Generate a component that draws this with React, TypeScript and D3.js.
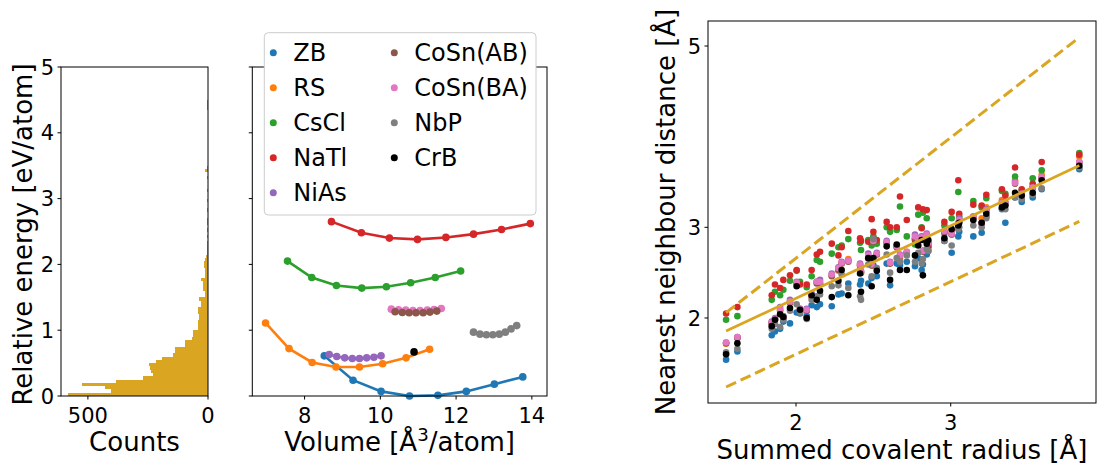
import React from 'react';
import * as d3 from 'd3';

const FONT = '"DejaVu Sans", sans-serif';

// ---------- relative-energy histogram (bins of 0.05 eV/atom starting at 0) ----------
const energyBinWidth = 0.05;
const energyCounts = [
  583, 403, 428, 525, 382, 270, 231, 236, 242, 246,
  217, 192, 146, 138, 138, 96, 96, 67, 64, 62,
  42, 42, 40, 36, 38, 42, 42, 29, 31, 37,
  11, 13, 19, 21, 21, 29, 12, 12, 14, 15,
  17, 12, 8, 6, 4, 5, 3, 2, 4, 2,
  3, 1, 4, 5, 2, 1, 3, 1, 2, 5,
  2, 1, 3, 2, 1, 2, 3, 1, 11, 3,
  0, 1, 0, 0, 1, 0, 0, 0, 0, 0,
  0, 0, 0, 0, 0, 0, 0, 3, 3, 3,
];
const countTicks = [500, 0];
const energyTicks = [0, 1, 2, 3, 4, 5];

// ---------- energy-volume curves ----------
const structureNames = ['ZB', 'RS', 'CsCl', 'NaTl', 'NiAs', 'CoSn(AB)', 'CoSn(BA)', 'NbP', 'CrB'];
const structureColors = ['#1f77b4', '#ff7f0e', '#2ca02c', '#d62728', '#9467bd', '#8c564b', '#e377c2', '#7f7f7f', '#000000'];

const zbVolume = [8.52, 9.28, 10.02, 10.77, 11.52, 12.27, 13.01, 13.76];
const zbEnergy = [0.61, 0.24, 0.07, 0.0, 0.01, 0.07, 0.18, 0.29];
const rsVolume = [6.97, 7.59, 8.2, 8.83, 9.45, 10.06, 10.68, 11.3];
const rsEnergy = [1.11, 0.72, 0.51, 0.44, 0.44, 0.49, 0.58, 0.71];
const csclVolume = [7.55, 8.19, 8.84, 9.51, 10.16, 10.8, 11.45, 12.12];
const csclEnergy = [2.05, 1.8, 1.68, 1.64, 1.66, 1.72, 1.8, 1.9];
const natlVolume = [8.71, 9.5, 10.24, 10.98, 11.73, 12.46, 13.2, 13.96];
const natlEnergy = [2.65, 2.48, 2.4, 2.38, 2.41, 2.46, 2.53, 2.62];
const niasVolume = [8.65, 8.85, 9.06, 9.26, 9.45, 9.64, 9.83, 10.02];
const niasEnergy = [0.63, 0.6, 0.58, 0.57, 0.57, 0.58, 0.59, 0.61];
const cosnABVolume = [10.39, 10.58, 10.76, 10.94, 11.13, 11.31, 11.49];
const cosnABEnergy = [1.28, 1.27, 1.265, 1.265, 1.265, 1.275, 1.29];
const cosnBAVolume = [10.29, 10.48, 10.67, 10.86, 11.05, 11.24, 11.42, 11.61];
const cosnBAEnergy = [1.32, 1.31, 1.305, 1.3, 1.3, 1.305, 1.315, 1.33];
const nbpVolume = [12.46, 12.63, 12.8, 12.97, 13.14, 13.3, 13.45, 13.6];
const nbpEnergy = [0.97, 0.94, 0.93, 0.93, 0.94, 0.97, 1.02, 1.07];
const crbVolume = [10.89];
const crbEnergy = [0.67];
const volumeTicks = [8, 10, 12, 14];

// ---------- nearest-neighbour distance vs summed covalent radius ----------
const radiusSum = [
  1.548, 1.621, 1.843, 1.864, 1.897, 1.918, 1.961, 2.004, 2.026, 2.069,
  2.101, 2.134, 2.155, 2.231, 2.274, 2.295, 2.338, 2.414, 2.42, 2.467,
  2.489, 2.522, 2.586, 2.608, 2.651, 2.672, 2.716, 2.769, 2.812, 2.82,
  2.855, 2.959, 3.006, 3.049, 3.055, 3.146, 3.2, 3.23, 3.331, 3.353,
  3.416, 3.459, 3.53, 3.588, 3.831, 2.79, 2.845, 2.5,
];
const zbDistance = [
  1.54, 1.63, 1.81, 1.85, 1.88, 1.96, 1.94, 2.06, 2.05, 2.02,
  2.14, 2.12, 2.15, 2.13, 2.26, 2.27, 2.38, 2.37, 2.41, 2.38,
  2.44, 2.46, 2.6, 2.36, 2.6, 2.58, 2.62, 2.57, 2.53, 2.59,
  2.74, 2.85, 2.72, 2.9, 2.95, 2.9, 2.94, 3.12, 3.2, 3.05,
  3.33, 3.28, 3.33, 3.42, 3.64, 2.66, 2.7, 2.58,
];
const rsDistance = [
  1.715, 1.78, 1.95, 1.98, 2.09, 2.0, 2.17, 2.38, 2.1, 2.08,
  2.23, 2.4, 2.38, 2.47, 2.52, 2.6, 2.65, 2.58, 2.5, 2.66,
  2.58, 2.7, 2.83, 2.6, 2.78, 2.65, 2.73, 2.87, 2.88, 2.74,
  2.82, 2.96, 2.95, 3.0, 3.08, 3.12, 3.1, 3.22, 3.3, 3.28,
  3.52, 3.38, 3.45, 3.58, 3.78, 2.88, 2.92, 2.84,
];
const csclDistance = [
  1.98, 2.02, 2.2, 2.29, 2.25, 2.31, 2.41, 2.52, 2.4, 2.34,
  2.46, 2.64, 2.62, 2.71, 2.78, 2.8, 2.87, 2.83, 2.75, 2.86,
  2.8, 2.82, 3.0, 2.95, 2.97, 3.23, 2.9, 2.81, 3.0, 3.16,
  2.79, 3.02, 3.1, 3.39, 3.12, 3.29, 3.22, 3.32, 3.4, 3.37,
  3.56, 3.4, 3.54, 3.63, 3.82, 3.14, 3.1, 2.9,
];
const natlDistance = [
  2.05, 2.12, 2.25, 2.37, 2.33, 2.42, 2.47, 2.53, 2.37, 2.37,
  2.53, 2.7, 2.73, 2.82, 2.69, 2.78, 2.96, 2.88, 2.85, 2.84,
  3.09, 2.86, 3.06, 3.0, 3.0, 3.34, 3.08, 2.86, 2.99, 3.2,
  2.78, 3.06, 3.17, 3.52, 3.15, 3.25, 3.24, 3.36, 3.42, 3.35,
  3.66, 3.42, 3.48, 3.72, 3.8, 3.22, 3.19, 2.95,
];
const niasDistance = [
  1.73, 1.79, 1.96, 2.0, 2.12, 2.02, 2.2, 2.4, 2.1, 2.1,
  2.27, 2.4, 2.42, 2.49, 2.56, 2.62, 2.63, 2.6, 2.52, 2.71,
  2.6, 2.72, 2.85, 2.62, 2.8, 2.7, 2.72, 2.92, 2.9, 2.74,
  2.84, 2.93, 2.92, 3.05, 3.1, 3.12, 3.05, 3.2, 3.28, 3.27,
  3.5, 3.37, 3.44, 3.55, 3.72, 2.88, 2.93, 2.86,
];
const cosnABDistance = [
  1.72, 1.78, 1.94, 1.98, 2.08, 2.0, 2.17, 2.38, 2.09, 2.08,
  2.24, 2.38, 2.38, 2.46, 2.53, 2.6, 2.62, 2.58, 2.5, 2.67,
  2.58, 2.7, 2.83, 2.6, 2.78, 2.68, 2.72, 2.88, 2.88, 2.73,
  2.82, 2.95, 2.92, 3.02, 3.07, 3.1, 3.04, 3.18, 3.26, 3.25,
  3.48, 3.36, 3.43, 3.54, 3.71, 2.86, 2.91, 2.84,
];
const cosnBADistance = [
  1.73, 1.79, 1.95, 1.99, 2.1, 2.01, 2.18, 2.39, 2.1, 2.09,
  2.25, 2.4, 2.4, 2.48, 2.55, 2.61, 2.63, 2.59, 2.51, 2.69,
  2.59, 2.71, 2.84, 2.61, 2.79, 2.69, 2.73, 2.9, 2.89, 2.74,
  2.83, 2.96, 2.93, 3.03, 3.08, 3.11, 3.05, 3.19, 3.27, 3.26,
  3.49, 3.37, 3.44, 3.55, 3.72, 2.87, 2.92, 2.85,
];
const nbpDistance = [
  1.62, 1.66, 1.88, 1.93, 1.9, 1.98, 2.08, 2.15, 2.06, 1.99,
  2.2, 2.24, 2.26, 2.35, 2.36, 2.48, 2.33, 2.24, 2.2, 2.59,
  2.46, 2.55, 2.7, 2.5, 2.66, 2.62, 2.69, 2.62, 2.6, 2.65,
  2.74, 2.85, 2.8, 2.98, 3.0, 3.02, 3.0, 3.1, 3.21, 3.2,
  3.33, 3.31, 3.36, 3.43, 3.66, 2.72, 2.76, 2.87,
];
const crbDistance = [
  1.6, 1.72, 1.91, 1.98, 2.04, 2.01, 2.11, 2.35, 2.09, 2.0,
  2.25, 2.2, 2.3, 2.23, 2.41, 2.53, 2.25, 2.49, 2.29, 2.66,
  2.35, 2.52, 2.79, 2.42, 2.81, 2.53, 2.53, 2.69, 2.86, 2.47,
  2.86, 2.88, 2.98, 3.02, 3.05, 3.08, 3.05, 3.15, 3.22, 3.24,
  3.38, 3.35, 3.38, 3.52, 3.68, 2.8, 2.82, 2.66,
];
// linear fit of distance on radius, and the proportional envelope lines
const fitSlope = 0.8;
const fitIntercept = 0.617;
const upperFactor = 1.33;
const lowerFactor = 0.8;
const radiusTicks = [2, 3];
const distanceTicks = [2, 3, 5];

const GOLD = '#daa520';
const TICK = 21;
const LABEL = 26;
const LEGEND = 24;

type Box = { left: number; right: number; top: number; bottom: number };

function Frame({ b }: { b: Box }) {
  return (
    <rect x={b.left} y={b.top} width={b.right - b.left} height={b.bottom - b.top}
      fill="none" stroke="#000" strokeWidth={1} />
  );
}

export default function App() {
  const histBox: Box = { left: 61, right: 208, top: 67, bottom: 396 };
  const evBox: Box = { left: 252.3, right: 547, top: 67, bottom: 396 };
  const nnBox: Box = { left: 708, right: 1096, top: 21, bottom: 403 };

  const energyY = d3.scaleLinear().domain([0, 5]).range([histBox.bottom, histBox.top]);
  const countX = d3.scaleLinear().domain([612, 0]).range([histBox.left, histBox.right]);
  const volX = d3.scaleLinear().domain([6.62, 14.4]).range([evBox.left, evBox.right]);
  const radX = d3.scaleLinear().domain([1.431, 3.939]).range([nnBox.left, nnBox.right]);
  const distY = d3.scaleLinear().domain([1.062, 5.276]).range([nnBox.bottom, nnBox.top]);

  const evSeries = [
    { v: zbVolume, e: zbEnergy, i: 0 },
    { v: rsVolume, e: rsEnergy, i: 1 },
    { v: csclVolume, e: csclEnergy, i: 2 },
    { v: natlVolume, e: natlEnergy, i: 3 },
    { v: niasVolume, e: niasEnergy, i: 4 },
    { v: cosnBAVolume, e: cosnBAEnergy, i: 6 },
    { v: cosnABVolume, e: cosnABEnergy, i: 5 },
    { v: nbpVolume, e: nbpEnergy, i: 7 },
    { v: crbVolume, e: crbEnergy, i: 8 },
  ];
  const nnSeries = [
    zbDistance, rsDistance, csclDistance, natlDistance, niasDistance,
    cosnABDistance, cosnBADistance, nbpDistance, crbDistance,
  ];

  const evLine = d3.line<[number, number]>().x((d) => volX(d[0])).y((d) => energyY(d[1]));
  const rMin = d3.min(radiusSum) as number;
  const rMax = d3.max(radiusSum) as number;
  const nnLine = d3.line<[number, number]>().x((d) => radX(d[0])).y((d) => distY(d[1]));

  const tickLen = 3.5;

  return (
    <svg width={1098} height={466} style={{ position: 'absolute', left: 0, top: 0, background: '#fff' }}
      fontFamily={FONT}>
      <rect x={0} y={0} width={1098} height={466} fill="#fff" />

      {/* ---- histogram of relative energies ---- */}
      <g>
        {energyCounts.map((c, k) =>
          c > 0 ? (
            <rect key={k}
              x={countX(c)} width={countX(0) - countX(c)}
              y={energyY((k + 1) * energyBinWidth)}
              height={energyY(k * energyBinWidth) - energyY((k + 1) * energyBinWidth)}
              fill={GOLD} shapeRendering="crispEdges" />
          ) : null,
        )}
        <Frame b={histBox} />
        {energyTicks.map((t) => (
          <g key={t}>
            <line x1={histBox.left - tickLen} x2={histBox.left} y1={energyY(t)} y2={energyY(t)} stroke="#000" />
            <text x={histBox.left - 7} y={energyY(t)} dy="0.36em" textAnchor="end" fontSize={TICK}>{t}</text>
          </g>
        ))}
        {countTicks.map((t) => (
          <g key={t}>
            <line x1={countX(t)} x2={countX(t)} y1={histBox.bottom} y2={histBox.bottom + tickLen} stroke="#000" />
            <text x={countX(t)} y={histBox.bottom + 27} textAnchor="middle" fontSize={TICK}>{t}</text>
          </g>
        ))}
        <text x={(histBox.left + histBox.right) / 2} y={histBox.bottom + 55} textAnchor="middle" fontSize={LABEL}>Counts</text>
        <text transform={`translate(32,${(histBox.top + histBox.bottom) / 2 + 3}) rotate(-90)`} textAnchor="middle" fontSize={LABEL}>
          Relative energy [eV/atom]
        </text>
      </g>

      {/* ---- energy-volume curves ---- */}
      <g>
        {evSeries.map((s) => {
          const pts = s.v.map((v, k) => [v, s.e[k]] as [number, number]);
          const col = structureColors[s.i];
          return (
            <g key={s.i}>
              {pts.length > 1 && (
                <path d={evLine(pts) as string} fill="none" stroke={col} strokeWidth={2.6} />
              )}
              {pts.map((p, k) => (
                <circle key={k} cx={volX(p[0])} cy={energyY(p[1])} r={3.8} fill={col} />
              ))}
            </g>
          );
        })}
        <Frame b={evBox} />
        {energyTicks.map((t) => (
          <line key={t} x1={evBox.left - tickLen} x2={evBox.left} y1={energyY(t)} y2={energyY(t)} stroke="#000" />
        ))}
        {volumeTicks.map((t) => (
          <g key={t}>
            <line x1={volX(t)} x2={volX(t)} y1={evBox.bottom} y2={evBox.bottom + tickLen} stroke="#000" />
            <text x={volX(t)} y={evBox.bottom + 27} textAnchor="middle" fontSize={TICK}>{t}</text>
          </g>
        ))}
        <text x={(evBox.left + evBox.right) / 2} y={evBox.bottom + 55} textAnchor="middle" fontSize={LABEL}>
          Volume [Å<tspan fontSize={LABEL * 0.7} dy={-10}>3</tspan><tspan dy={10}>/atom]</tspan>
        </text>

        {/* legend */}
        <rect x={264.3} y={32.7} width={271.7} height={182.3} rx={4} fill="#fff" stroke="#cccccc" strokeWidth={1} />
        {structureNames.map((name, k) => {
          const col = k < 5 ? 0 : 1;
          const row = k < 5 ? k : k - 5;
          const mx = col === 0 ? 273.3 : 394.3;
          const my = 52.7 + row * 35;
          return (
            <g key={name}>
              <circle cx={mx} cy={my} r={3.5} fill={structureColors[k]} />
              <text x={mx + 20} y={my} dy="0.36em" fontSize={LEGEND}>{name}</text>
            </g>
          );
        })}
      </g>

      {/* ---- nearest-neighbour distance vs summed covalent radius ---- */}
      <g>
        {nnSeries.map((ds, si) => (
          <g key={si}>
            {radiusSum.map((r, k) =>
              ds[k] !== undefined ? (
                <circle key={k} cx={radX(r)} cy={distY(ds[k])} r={3.3} fill={structureColors[si]} />
              ) : null,
            )}
          </g>
        ))}
        <path d={nnLine([[rMin, rMin * upperFactor], [rMax, rMax * upperFactor]]) as string}
          fill="none" stroke={GOLD} strokeWidth={3} strokeDasharray="11,5" />
        <path d={nnLine([[rMin, rMin * lowerFactor], [rMax, rMax * lowerFactor]]) as string}
          fill="none" stroke={GOLD} strokeWidth={3} strokeDasharray="11,5" />
        <path d={nnLine([[rMin, fitIntercept + fitSlope * rMin], [rMax, fitIntercept + fitSlope * rMax]]) as string}
          fill="none" stroke={GOLD} strokeWidth={2.8} />
        <Frame b={nnBox} />
        {distanceTicks.map((t) => (
          <g key={t}>
            <line x1={nnBox.left - tickLen} x2={nnBox.left} y1={distY(t)} y2={distY(t)} stroke="#000" />
            <text x={nnBox.left - 7} y={distY(t)} dy="0.36em" textAnchor="end" fontSize={TICK}>{t}</text>
          </g>
        ))}
        {radiusTicks.map((t) => (
          <g key={t}>
            <line x1={radX(t)} x2={radX(t)} y1={nnBox.bottom} y2={nnBox.bottom + tickLen} stroke="#000" />
            <text x={radX(t)} y={nnBox.bottom + 27} textAnchor="middle" fontSize={TICK}>{t}</text>
          </g>
        ))}
        <text x={(nnBox.left + nnBox.right) / 2} y={nnBox.bottom + 56} textAnchor="middle" fontSize={LABEL}>
          Summed covalent radius [Å]
        </text>
        <text transform={`translate(675,${(nnBox.top + nnBox.bottom) / 2}) rotate(-90)`} textAnchor="middle" fontSize={LABEL}>
          Nearest neighbour distance [Å]
        </text>
      </g>
    </svg>
  );
}
